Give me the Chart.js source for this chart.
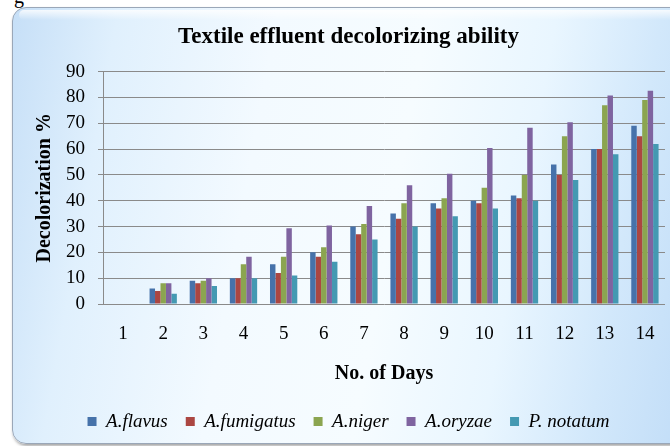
<!DOCTYPE html>
<html>
<head>
<meta charset="utf-8">
<script src="https://cdn.jsdelivr.net/npm/chart.js@4/dist/chart.umd.min.js"></script>
<style>
  html, body { margin: 0; padding: 0; background: #fff; }
  #wrap { position: relative; width: 670px; height: 446px; overflow: hidden; }
  #cap { position: absolute; left: 14px; top: -15px; font: 20px "Liberation Serif", serif; color: #000; }
  #panel {
    position: absolute; left: 12px; top: 7px; width: 680px; height: 435px;
    border: 1.5px solid #9aa7b8; border-radius: 14px;
    box-shadow: 1px 2px 3px rgba(0,0,0,0.35);
    background: linear-gradient(100deg, #c6dff7 0%, #e0f0fd 14%, #f3faff 35%, #f6fcff 55%, #e9f6ff 72%, #d2e8fb 86%, #c0dcf7 100%);
  }
  #panel:before {
    content: ""; position: absolute; left: 6px; right: 6px; top: 2px; height: 10px;
    border-radius: 10px; background: linear-gradient(#ffffff, rgba(255,255,255,0));
    opacity: 0.8;
  }
  canvas { position: absolute; left: 0; top: 0; }
</style>
</head>
<body>
<div id="wrap">
  <div id="cap">g</div>
  <div id="panel"></div>
  <canvas id="myChart" width="670" height="446"></canvas>
</div>
<script>
var serif = '"Liberation Serif", "Times New Roman", serif';
var days = ['1', '2', '3', '4', '5', '6', '7', '8', '9', '10', '11', '12', '13', '14'];
var flavus    = [0, 6, 9, 10, 15.4, 20, 30, 35, 39, 40, 42, 54, 60, 69];
var fumigatus = [0, 5, 8, 10, 12, 18.3, 27, 33, 37, 39, 41, 50, 60, 65];
var niger     = [0, 8, 9, 15.4, 18.3, 22, 31, 39, 41, 45, 50, 65, 77, 79];
var oryzae    = [0, 8, 10, 18.3, 29.3, 30.4, 38, 46, 50.4, 60.4, 68.3, 70.4, 80.7, 82.6];
var notatum   = [0, 4, 7, 10, 11, 16.4, 25, 30, 34, 37, 40, 48, 58, 62];
var names = ['A.flavus', 'A.fumigatus', 'A.niger', 'A.oryzae', 'P. notatum'];
var colors = ['#4672aa', '#ab4642', '#8ba550', '#7f64a0', '#4499b2'];
var series = [flavus, fumigatus, niger, oryzae, notatum];

var ctx = document.getElementById('myChart');
var datasets = series.map(function (s, i) {
    return {
        label: names[i],
        data: s,
        backgroundColor: colors[i],
        borderWidth: 0,
        categoryPercentage: 0.68,
        barPercentage: 1.0
    };
});

new Chart(ctx, {
    type: 'bar',
    data: { labels: days, datasets: datasets },
    options: {
        responsive: false,
        animation: false,
        layout: { padding: { left: 32, right: 5, top: 8, bottom: 5 } },
        plugins: {
            title: {
                display: true,
                text: 'Textile effluent decolorizing ability',
                color: '#000',
                font: { family: serif, size: 23, weight: 'bold' },
                padding: { top: 15, bottom: 21 }
            },
            legend: {
                position: 'bottom',
                labels: {
                    boxWidth: 9, boxHeight: 9, padding: 18, color: '#000',
                    font: { family: serif, size: 19, style: 'italic' }
                }
            },
            tooltip: { enabled: false }
        },
        scales: {
            x: {
                grid: { display: false },
                border: { display: false },
                ticks: { color: '#000', padding: 11, font: { family: serif, size: 19 } },
                title: {
                    display: true, text: 'No. of Days', color: '#000',
                    font: { family: serif, size: 20, weight: 'bold' },
                    padding: { top: 10, bottom: 8 }
                },
                afterFit: function (scale) { scale.height = 90; }
            },
            y: {
                min: 0, max: 90,
                ticks: { stepSize: 10, autoSkip: false, color: '#000', padding: 13, font: { family: serif, size: 19 } },
                grid: { color: '#8a8a8a', tickLength: 5 },
                border: { color: '#8a8a8a' },
                title: {
                    display: true, text: 'Decolorization %', color: '#000',
                    font: { family: serif, size: 20, weight: 'bold' },
                    padding: { top: 1, bottom: 4 }
                },
                afterFit: function (scale) { scale.width = 71; }
            }
        }
    }
});
</script>
</body>
</html>
